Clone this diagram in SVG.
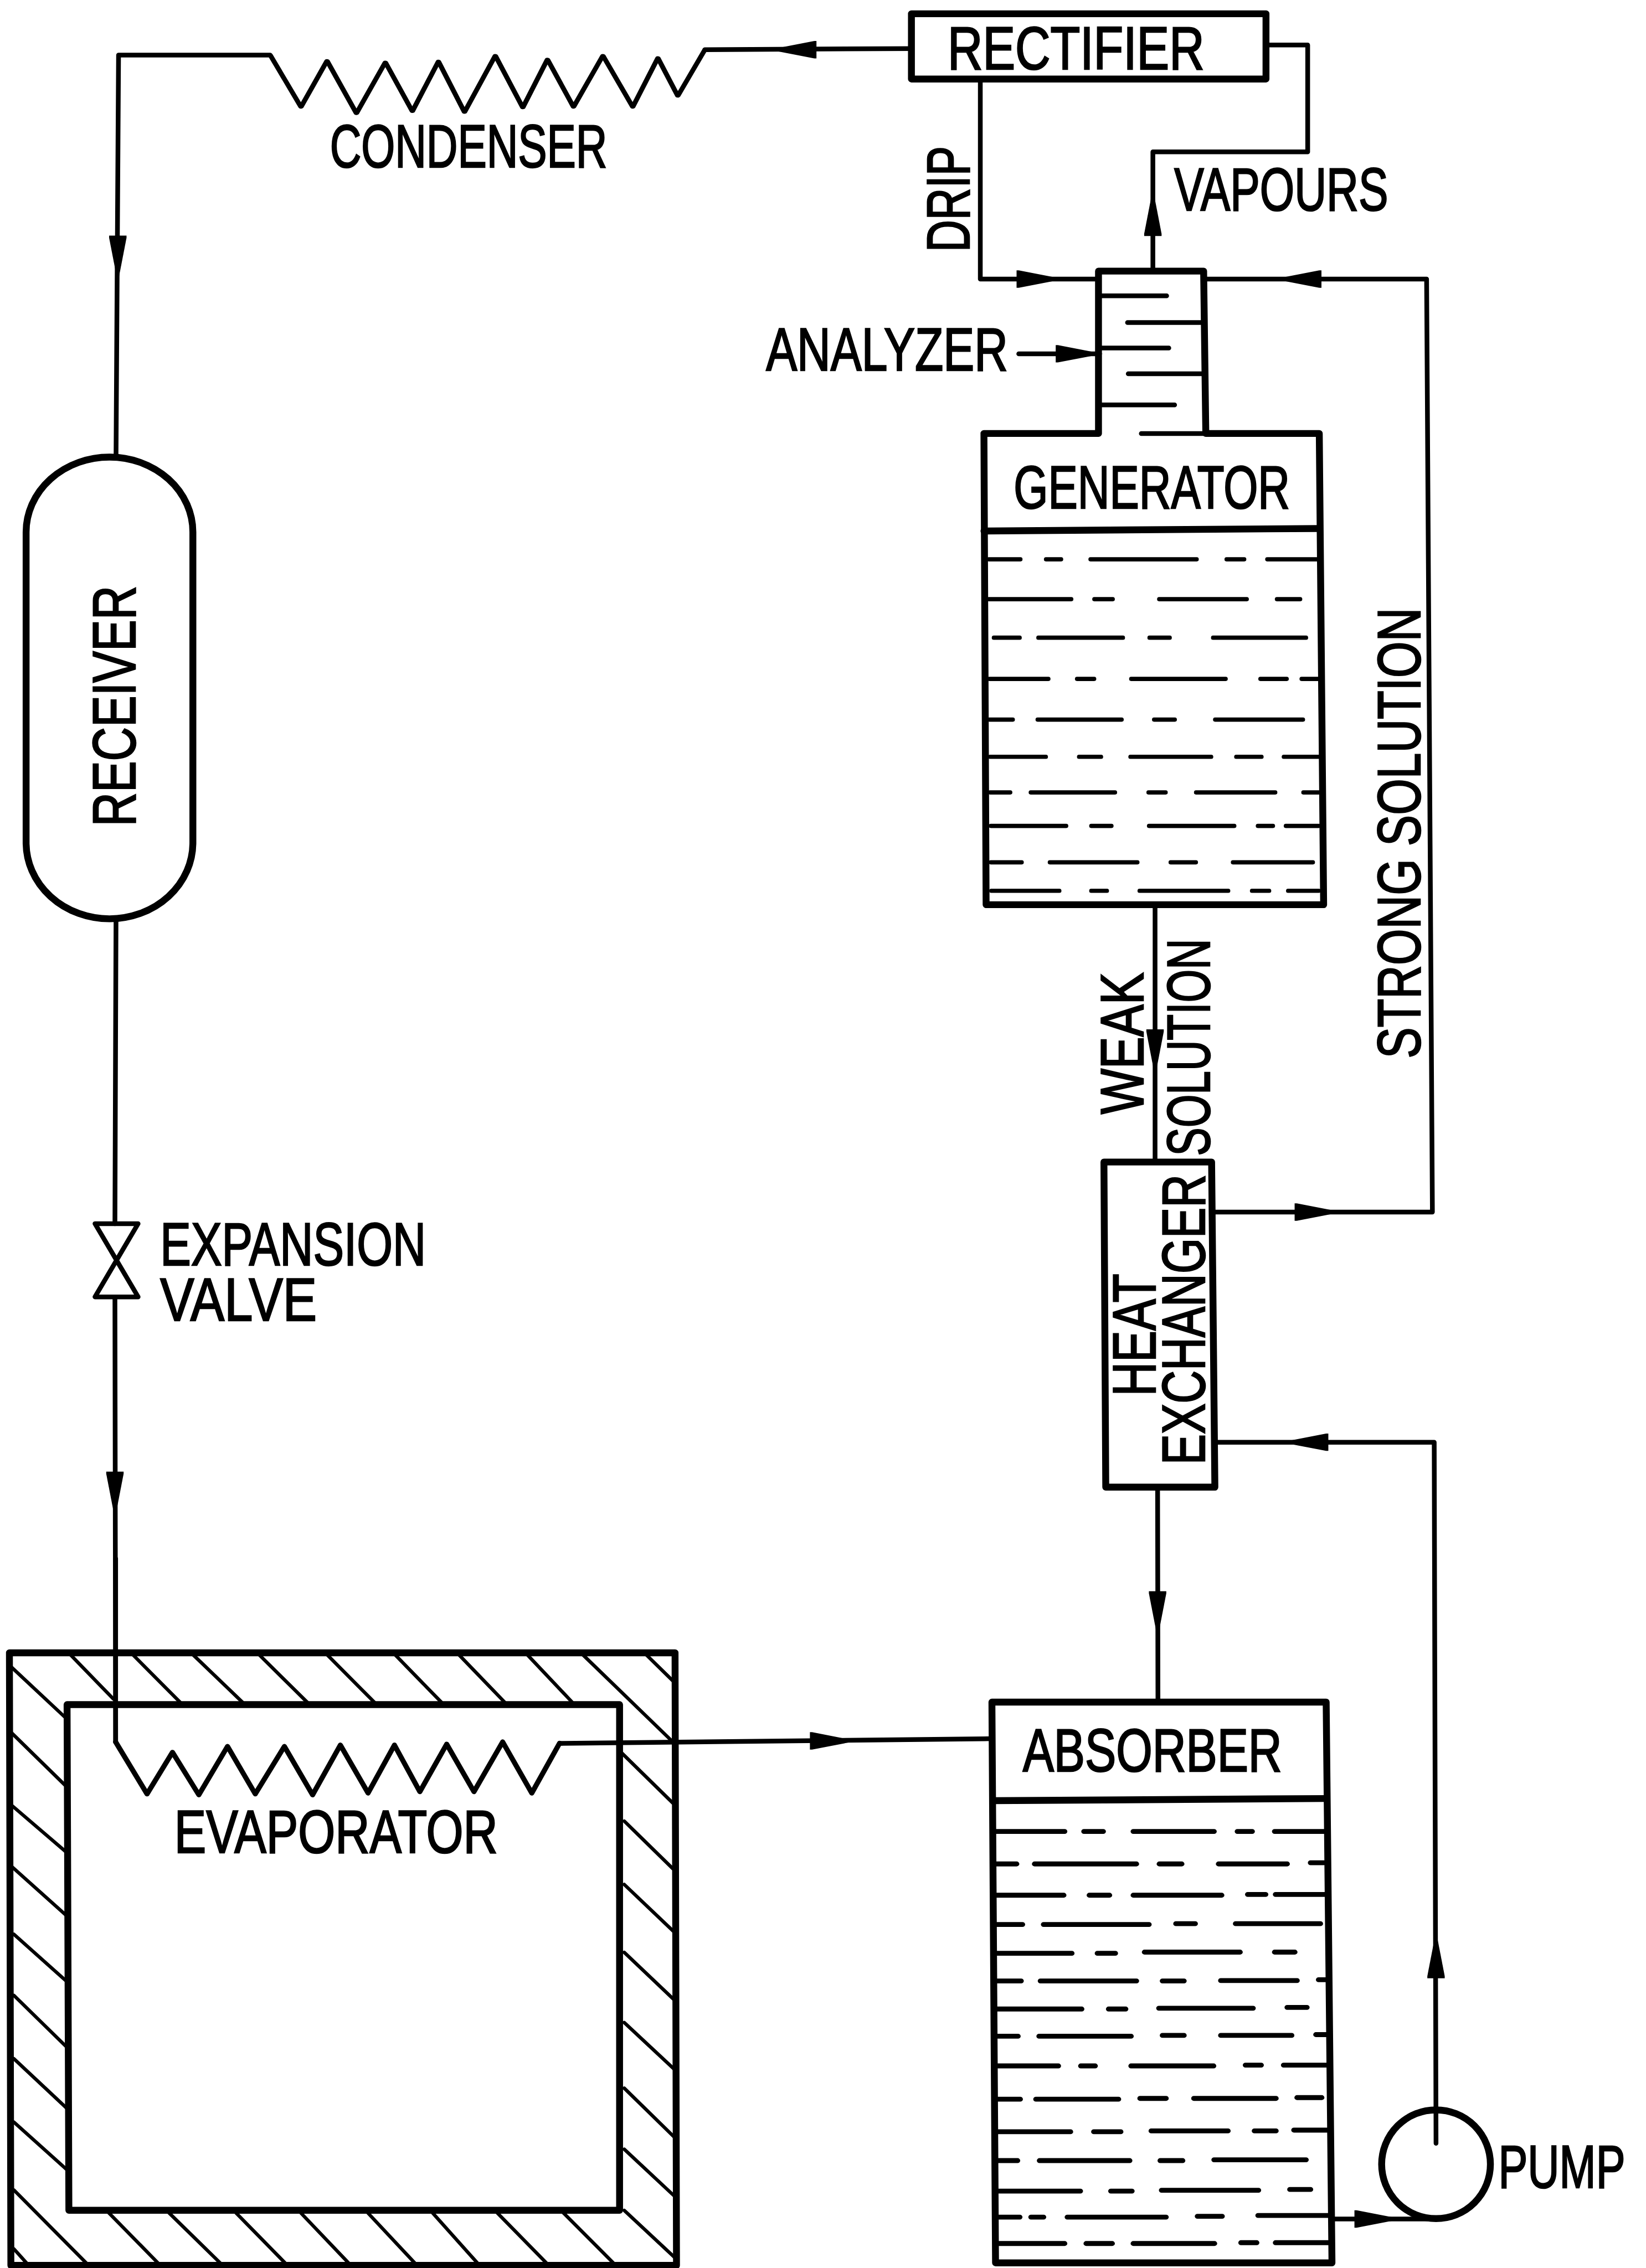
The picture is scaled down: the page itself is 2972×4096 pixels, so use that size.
<svg xmlns="http://www.w3.org/2000/svg" xmlns:xlink="http://www.w3.org/1999/xlink" width="2972" height="4096" viewBox="0 0 2972 4096">
<style>
.w{fill:none;stroke:#000;stroke-width:19;stroke-linejoin:round;stroke-linecap:round}
.c{fill:none;stroke:#000;stroke-width:13;stroke-linejoin:round;stroke-linecap:round}
.t{fill:#000;stroke:#000;stroke-width:4;font-family:"Liberation Sans",Arial,sans-serif;font-size:166px}
.d{fill:none;stroke:#000;stroke-linecap:round}
.h{fill:none;stroke:#000;stroke-width:7.5;stroke-linecap:round}
</style>
<defs><polygon id="ah" points="0,-24 6,-24 130,0 6,24 0,24" fill="#000"/></defs>
<rect width="2972" height="4096" fill="#fff"/>
<g transform="scale(0.6546)">
<g id="connectors">
<path class="c" d="M2514 134L1944 137"/>
<path class="c" stroke-width="15" d="M745 152H327L320 1261"/>
<path class="c" d="M320 2535L317 3376"/>
<path class="c" d="M317 3578L319 4806"/>
<path class="c" d="M3492 124H3607V419H3180V742"/>
<path class="c" d="M2704 218V770H3030"/>
<path class="c" d="M2810 976H3030"/>
<path class="c" d="M3326 770H3935L3951 3344H3346"/>
<path class="c" d="M3186 2496V3206"/>
<path class="c" d="M3352 3979H3956L3961 5913"/>
<path class="c" d="M3193 4103L3194 4696"/>
<path class="c" d="M1543 4810L2736 4797"/>
<path class="c" d="M3674 6122H3961"/>
<use xlink:href="#ah" href="#ah" transform="translate(2252,137) rotate(180)"/>
<use xlink:href="#ah" href="#ah" transform="translate(325,650) rotate(90)"/>
<use xlink:href="#ah" href="#ah" transform="translate(317,4060) rotate(90)"/>
<use xlink:href="#ah" href="#ah" transform="translate(3180,651) rotate(-90)"/>
<use xlink:href="#ah" href="#ah" transform="translate(2804,770)"/>
<use xlink:href="#ah" href="#ah" transform="translate(2912,976)"/>
<use xlink:href="#ah" href="#ah" transform="translate(3645,770) rotate(180)"/>
<use xlink:href="#ah" href="#ah" transform="translate(3186,2840) rotate(90)"/>
<use xlink:href="#ah" href="#ah" transform="translate(3571,3344)"/>
<use xlink:href="#ah" href="#ah" transform="translate(3664,3979) rotate(180)"/>
<use xlink:href="#ah" href="#ah" transform="translate(3193,4390) rotate(90)"/>
<use xlink:href="#ah" href="#ah" transform="translate(2234,4803)"/>
<use xlink:href="#ah" href="#ah" transform="translate(3961,5458) rotate(-90)"/>
<use xlink:href="#ah" href="#ah" transform="translate(3736,6122)"/>
</g>
<g id="rectifier">
<path class="w" d="M2514 38H3492V218H2514Z"/>
<text class="t" x="2614" y="191" textLength="708" lengthAdjust="spacingAndGlyphs">RECTIFIER</text>
</g>
<g id="condenser">
<path transform="translate(0,80) scale(1.3074,0.797)" fill="none" stroke="#000" stroke-width="11" stroke-linejoin="round" stroke-linecap="round" d="M570 90L635 270L690 110L752 292L813 115L870 285L925 112L980 288L1045 92L1103 272L1155 105L1210 270L1272 92L1335 270L1388 100L1430 232L1487 72"/>
<text class="t" x="910" y="461" textLength="765" lengthAdjust="spacingAndGlyphs">CONDENSER</text>
</g>
<g id="receiver">
<path class="w" d="M72 1468A230 207 0 0 1 532 1468V2325A230 210 0 0 1 72 2325Z"/>
<text class="t" transform="translate(373,2280) rotate(-90)" textLength="664" lengthAdjust="spacingAndGlyphs">RECEIVER</text>
</g>
<g id="expansion-valve">
<path class="c" stroke-width="15" d="M262 3376H381L262 3578H381Z"/>
<text class="t" x="442" y="3490" textLength="733" lengthAdjust="spacingAndGlyphs">EXPANSION</text>
<text class="t" x="442" y="3643" textLength="432" lengthAdjust="spacingAndGlyphs">VALVE</text>
</g>
<g id="analyzer-generator">
<path class="w" d="M3030 748H3320L3326 1196H3639L3651 2496H2720L2714 1196H3030Z"/>
<path class="w" d="M2714 1465L3640 1458"/>
<path class="c" d="M3030 816H3218M3110 890H3320M3030 960H3224M3112 1031H3322M3030 1117H3240M3148 1196H3326"/>
<path class="d" stroke-width="16" transform="translate(2650,1400) scale(0.7015,0.7334)" d="M110 195H235M335 195H395M510 195H928M1045 195H1115M1205 195H1400M110 345H435M525 345H598M780 345H1125M1243 345H1335M130 490H232M305 490H638M742 490H822M992 490H1358M112 645H345M457 645H525M670 645H1042M1178 645H1282M1340 645H1405M112 798H205M302 798H633M760 798H842M1000 798H1346M115 938H335M465 938H552M667 938H985M1083 938H1183M1270 938H1408M115 1072H195M275 1072H607M738 1072H806M925 1072H1237M1347 1072H1408M118 1198H415M513 1198H593M740 1198H1076M1168 1198H1228M1278 1198H1408M118 1335H240M350 1335H695M825 1335H925M1070 1335H1385M120 1442H388M513 1442H575M703 1442H1052M1145 1442H1213M1287 1442H1408"/>
<text class="t" x="2796" y="1402" textLength="762" lengthAdjust="spacingAndGlyphs">GENERATOR</text>
<text class="t" x="2113" y="1022" textLength="667" lengthAdjust="spacingAndGlyphs">ANALYZER</text>
</g>
<g id="labels">
<text class="t" x="3239" y="581" textLength="590" lengthAdjust="spacingAndGlyphs">VAPOURS</text>
<text class="t" transform="translate(2673,695) rotate(-90)" textLength="292" lengthAdjust="spacingAndGlyphs">DRIP</text>
<text class="t" transform="translate(3153,3074) rotate(-90)" textLength="391" lengthAdjust="spacingAndGlyphs">WEAK</text>
<text class="t" transform="translate(3337,3189) rotate(-90)" textLength="599" lengthAdjust="spacingAndGlyphs">SOLUTION</text>
<text class="t" transform="translate(3917,2920) rotate(-90)" textLength="1243" lengthAdjust="spacingAndGlyphs">STRONG SOLUTION</text>
</g>
<g id="heat-exchanger">
<path class="w" d="M3045 3206H3342L3351 4103H3050Z"/>
<text class="t" transform="translate(3186,3852) rotate(-90)" textLength="338" lengthAdjust="spacingAndGlyphs">HEAT</text>
<text class="t" transform="translate(3322,4041) rotate(-90)" textLength="801" lengthAdjust="spacingAndGlyphs">EXCHANGER</text>
</g>
<g id="evaporator">
<path class="w" d="M26 4560H1862L1866 6250H30Z"/>
<path class="w" d="M185 4703H1709V6098H190Z"/>
<path class="c" d="M319 4300V4806"/>
<path transform="translate(0,4300) scale(1.2755,1.2488)" fill="none" stroke="#000" stroke-width="11" stroke-linejoin="round" stroke-linecap="round" d="M250 405L318 520L373 428L430 522L492 415L552 520L615 415L676 522L736 412L796 518L853 412L908 515L966 410L1025 515L1087 405L1150 518L1210 408"/>
<path class="h" transform="translate(0,4300) scale(1.2755,1.2488)" d="M150 210L245 310M285 210L390 318M415 210L525 318M558 210L665 318M705 210L810 318M852 210L955 318M990 210L1092 318M1138 210L1238 318M1258 210L1455 405M1395 210L1455 270M25 240L140 350M25 385L140 500M25 545L145 650M25 680L145 790M30 830L145 935M30 965L145 1080M30 1105L145 1215M30 1245L150 1355M30 1395L195 1565M30 1525L65 1565M1345 430L1455 540M1350 580L1455 685M1350 720L1458 825M1350 870L1458 975M1350 1025L1460 1130M1350 1170L1460 1280M1350 1305L1460 1410M1350 1440L1460 1545M235 1445L350 1565M365 1445L485 1565M510 1445L625 1565M650 1445L762 1565M795 1445L905 1565M935 1445L1040 1565M1075 1445L1190 1565M1218 1445L1335 1565"/>
<text class="t" x="481" y="5112" textLength="892" lengthAdjust="spacingAndGlyphs">EVAPORATOR</text>
</g>
<g id="absorber">
<path class="w" d="M2736 4696H3658L3674 6243H2746Z"/>
<path class="w" d="M2738 4968L3660 4962"/>
<path class="d" stroke-width="12" transform="translate(2600,4500) scale(1.2376,1.1212)" d="M118 493H272M315 493H358M425 493H605M657 493H690M740 493H852M120 573H165M205 573H432M483 573H533M615 573H768M820 570H850M120 650H270M327 650H372M425 650H622M680 648H720M742 648H855M120 722H178M225 722H460M520 720H563M653 720H842M120 793H288M345 793H385M450 790H663M740 790H785M120 861H175M218 861H432M490 861H538M620 860H790M838 858H855M120 930H310M370 930H408M482 928H692M768 926H812M120 997H168M215 997H420M490 995H538M620 995H778M832 993H857M120 1070H258M308 1070H340M420 1070H604M675 1068H710M760 1068H858M122 1152H173M208 1152H392M440 1150H498M560 1150H743M790 1148H845M122 1232H285M337 1232H397M465 1230H636M695 1230H743M783 1228H858M122 1303H167M216 1303H417M485 1303H535M605 1301H810M122 1378H307M375 1378H422M488 1376H704M774 1374H820M122 1442H172M197 1442H225M278 1442H498M568 1440H623M703 1438H860M125 1507H272M320 1507H378M425 1507H606M665 1505H700M742 1505H860"/>
<text class="t" x="2821" y="4887" textLength="715" lengthAdjust="spacingAndGlyphs">ABSORBER</text>
</g>
<g id="pump">
<circle class="w" cx="3961" cy="5971" r="150"/>
<text class="t" x="4133" y="6036" textLength="350" lengthAdjust="spacingAndGlyphs">PUMP</text>
</g>
</g>
</svg>
